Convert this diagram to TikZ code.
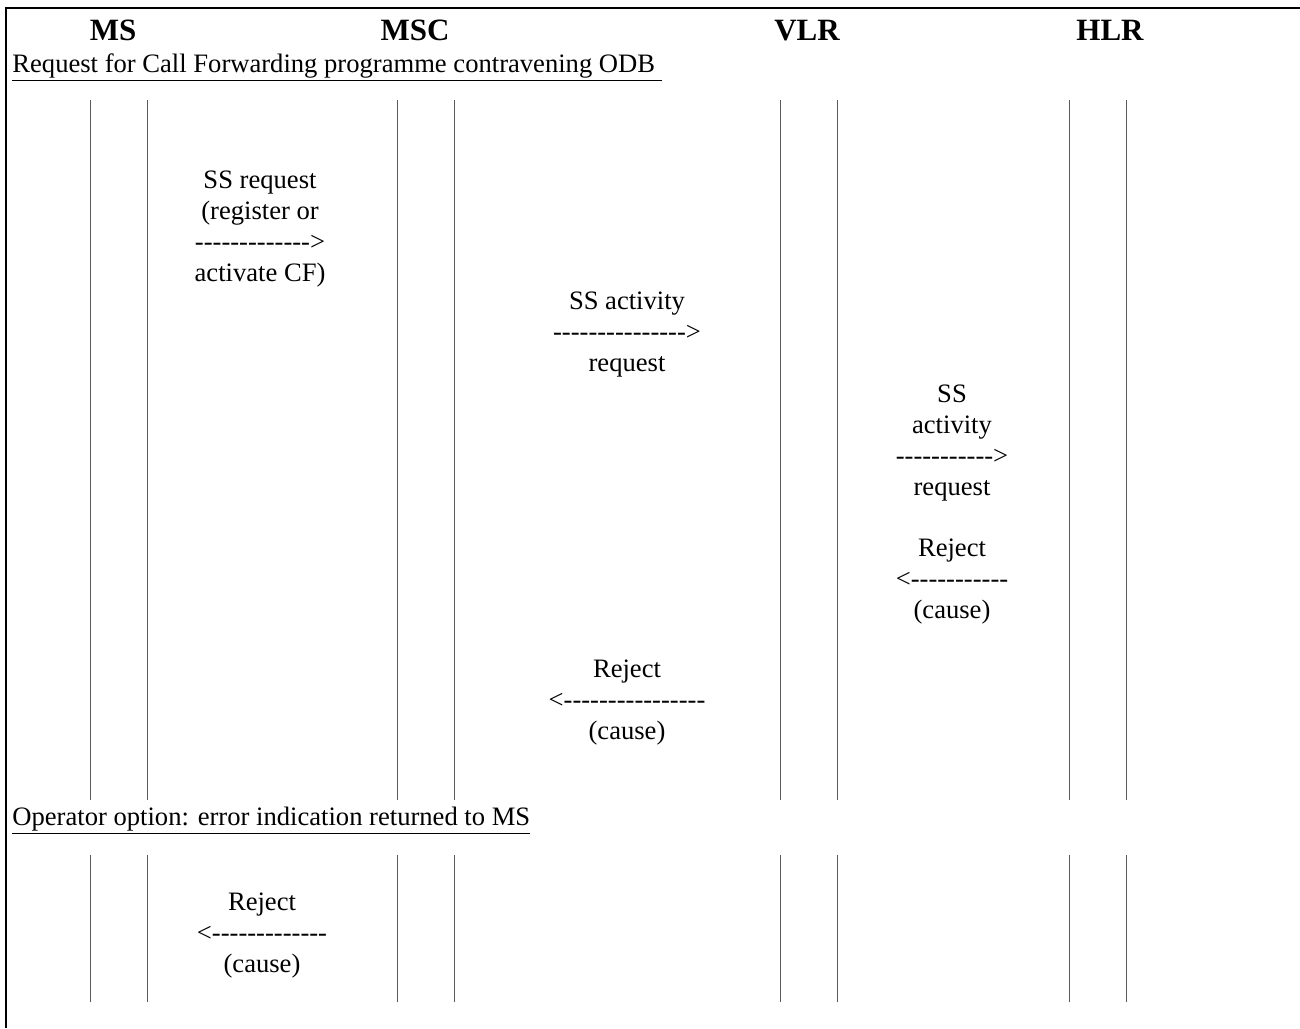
\documentclass[tikz,border=0pt]{standalone}
\usepackage{fontspec}
\setmainfont{Liberation Serif}[Ligatures=TeXOff]
\usepackage{tikz}
\usetikzlibrary{positioning}

\tikzset{
        entity/.style={font=\fontsize{15.5}{18}\selectfont\bfseries, anchor=base, inner sep=0pt},
        msg/.style={font=\fontsize{13.3}{15.5}\selectfont, align=center, inner sep=0pt},
        phase/.style={font=\fontsize{13.3}{15.5}\selectfont, anchor=base west, inner sep=0pt},
        life/.style={color=black!65, line width=0.5pt}
}

\begin{document}
\begin{tikzpicture}[x=0.5pt,y=-0.5pt]
                \useasboundingbox (0,0) rectangle (1300,1028);

                \draw[line width=1.2pt] (6,1028) -- (6,8) -- (1300,8);

                \node[entity] (ms)  at (113,40)  {MS};
                \node[entity] (msc) at (415,40)  {MSC};
                \node[entity] (vlr) at (807,40)  {VLR};
                \node[entity] (hlr) at (1110,40) {HLR};

                \node[phase] (odb) at (12,72) {\underline{Request for Call Forwarding programme contravening ODB\ }};
                \node[phase] (opt) at (12,825) {\underline{Operator option: error indication returned to MS}};

                \foreach \x in {90,147,397,454,780,837,1069,1126} {
                        \draw[life] (\x,100) -- (\x,800);
                        \draw[life] (\x,855) -- (\x,1002);
                }

                \node[msg] (ssreq) at (260,229) {SS request\\(register or\\------------->\\activate CF)};
                \node[msg] (actvlr) at (627,335) {SS activity\\--------------->\\request};
                \node[msg] (acthlr) at (952,443) {SS\\activity\\----------->\\request};
                \node[msg] (rejhlr) at (952,582) {Reject\\<-----------\\(cause)};
                \node[msg] (rejvlr) at (627,703) {Reject\\<----------------\\(cause)};
                \node[msg] (rejms)  at (262,936) {Reject\\<-------------\\(cause)};
\end{tikzpicture}
\end{document}
